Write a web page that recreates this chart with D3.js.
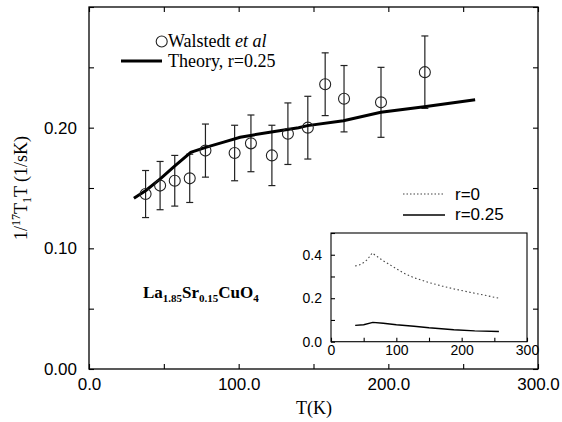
<!DOCTYPE html>
<html>
<head>
<meta charset="utf-8">
<script src="https://cdn.jsdelivr.net/npm/d3@7"></script>
<style>
  body { margin: 0; background: #fff; }
  svg { display: block; }
  .tick line { stroke: #000; stroke-width: 1.1; }
  .domain { stroke: none; }
</style>
</head>
<body>
<script>
// Walstedt et al data
const tempData = [37.8, 47.5, 57.3, 67.3, 77.8, 97.3, 108.2, 122.2, 132.9, 146.2, 157.8, 170.4, 195.1, 224.4]
const rateData = [0.145, 0.152, 0.156, 0.158, 0.181, 0.179, 0.187, 0.177, 0.195, 0.200, 0.236, 0.224, 0.221, 0.246]
const errData = [0.0195, 0.020, 0.021, 0.020, 0.022, 0.023, 0.0235, 0.025, 0.0255, 0.026, 0.026, 0.0275, 0.029, 0.030]

// theory, r=0.25
const theoryT = [30, 38, 48, 57, 68, 78, 90, 101, 110, 125, 140, 146, 170, 195, 224, 258]
const theoryV = [0.1416, 0.148, 0.158, 0.168, 0.1796, 0.1837, 0.188, 0.192, 0.194, 0.197, 0.200, 0.2017, 0.2058, 0.2127, 0.2174, 0.2231]

// inset curves
const r0T = [37, 45, 50, 55, 60, 63, 80, 100, 111, 127, 150, 170, 188, 210, 235, 257]
const r0V = [0.348, 0.355, 0.364, 0.376, 0.395, 0.408, 0.372, 0.336, 0.316, 0.294, 0.272, 0.256, 0.243, 0.229, 0.214, 0.200]
const r25T = [37, 50, 64, 80, 100, 127, 150, 188, 220, 257]
const r25V = [0.075, 0.078, 0.089, 0.085, 0.078, 0.071, 0.064, 0.055, 0.050, 0.047]

const xTicks = [0, 50, 100, 150, 200, 250, 300]
const yTicks = [0, 0.05, 0.10, 0.15, 0.20, 0.25, 0.30]
const insetXTicks = [0, 50, 100, 150, 200, 250, 300]
const insetYTicks = [0, 0.1, 0.2, 0.3, 0.4, 0.5]

const w = 562, h = 422
const sans = "'Liberation Sans', Arial, sans-serif"
const serif = "'Liberation Serif', 'Times New Roman', serif"

const svg = d3.select("body").append("svg")
  .attr("width", w)
  .attr("height", h)

const xScale = d3.scaleLinear().domain([0, 300]).range([89, 538])
const yScale = d3.scaleLinear().domain([0, 0.30]).range([369, 7])

// axes, ticks pointing inward
const fmtX = d => d % 100 === 0 ? d3.format(".1f")(d) : ""
const fmtY = d => Math.round(d * 100) % 10 === 0 && d < 0.25 ? d3.format(".2f")(d) : ""

const gx = svg.append("g")
  .attr("transform", "translate(0," + yScale(0) + ")")
  .call(d3.axisBottom(xScale).tickValues(xTicks).tickFormat(fmtX).tickSizeInner(-5).tickSizeOuter(0).tickPadding(9))
svg.append("g")
  .attr("transform", "translate(0," + yScale(0.30) + ")")
  .call(d3.axisTop(xScale).tickValues(xTicks).tickFormat("").tickSizeInner(-5).tickSizeOuter(0))
const gy = svg.append("g")
  .attr("transform", "translate(" + xScale(0) + ",0)")
  .call(d3.axisLeft(yScale).tickValues(yTicks).tickFormat(fmtY).tickSizeInner(-5).tickSizeOuter(0).tickPadding(12))
svg.append("g")
  .attr("transform", "translate(" + xScale(300) + ",0)")
  .call(d3.axisRight(yScale).tickValues(yTicks).tickFormat("").tickSizeInner(-5).tickSizeOuter(0))

svg.selectAll(".tick text")
  .style("font-family", sans)
  .style("font-size", "17px")
  .attr("fill", "#000")

svg.append("rect")
  .attr("x", xScale(0))
  .attr("y", yScale(0.30))
  .attr("width", xScale(300) - xScale(0))
  .attr("height", yScale(0) - yScale(0.30))
  .attr("fill", "none")
  .attr("stroke", "#000")
  .attr("stroke-width", 1.3)

// error bars
const pts = tempData.map((t, i) => ({ t: t, v: rateData[i], e: errData[i] }))
const bars = svg.append("g").attr("stroke", "#222").attr("stroke-width", 1.2)
bars.selectAll(".vbar").data(pts).enter().append("line")
  .attr("x1", d => xScale(d.t)).attr("x2", d => xScale(d.t))
  .attr("y1", d => yScale(d.v + d.e)).attr("y2", d => yScale(d.v - d.e))
bars.selectAll(".cap-top").data(pts).enter().append("line")
  .attr("x1", d => xScale(d.t) - 3.5).attr("x2", d => xScale(d.t) + 3.5)
  .attr("y1", d => yScale(d.v + d.e)).attr("y2", d => yScale(d.v + d.e))
bars.selectAll(".cap-bot").data(pts).enter().append("line")
  .attr("x1", d => xScale(d.t) - 3.5).attr("x2", d => xScale(d.t) + 3.5)
  .attr("y1", d => yScale(d.v - d.e)).attr("y2", d => yScale(d.v - d.e))

// theory line
const line = d3.line().x(d => xScale(d[0])).y(d => yScale(d[1]))
svg.append("path")
  .datum(theoryT.map((t, i) => [t, theoryV[i]]))
  .attr("d", line)
  .attr("fill", "none")
  .attr("stroke", "#000")
  .attr("stroke-width", 3)

// data circles
svg.selectAll("circle.pt").data(pts).enter().append("circle")
  .attr("class", "pt")
  .attr("cx", d => xScale(d.t))
  .attr("cy", d => yScale(d.v))
  .attr("r", 5.5)
  .attr("fill", "none")
  .attr("stroke", "#222")
  .attr("stroke-width", 1.1)

// legend
svg.append("circle")
  .attr("cx", 161.7).attr("cy", 41.5).attr("r", 5.5)
  .attr("fill", "none").attr("stroke", "#222").attr("stroke-width", 1.1)
const leg1 = svg.append("text")
  .attr("x", 168).attr("y", 47)
  .style("font-family", serif).style("font-size", "18px")
leg1.append("tspan").text("Walstedt ")
leg1.append("tspan").style("font-style", "italic").text("et al")
svg.append("line")
  .attr("x1", 121).attr("x2", 162).attr("y1", 61).attr("y2", 61)
  .attr("stroke", "#000").attr("stroke-width", 3)
svg.append("text")
  .attr("x", 168).attr("y", 67)
  .style("font-family", serif).style("font-size", "18px")
  .text("Theory, r=0.25")

// axis titles
svg.append("text")
  .attr("x", 314).attr("y", 414)
  .attr("text-anchor", "middle")
  .style("font-family", serif).style("font-size", "18px")
  .text("T(K)")

const yl = svg.append("text")
  .attr("transform", "translate(27,188) rotate(-90)")
  .attr("text-anchor", "middle")
  .style("font-family", serif).style("font-size", "18px")
yl.append("tspan").text("1/")
yl.append("tspan").attr("dy", -7).style("font-size", "12px").text("17")
yl.append("tspan").attr("dy", 7).text("T")
yl.append("tspan").attr("dy", 4).style("font-size", "12px").text("1")
yl.append("tspan").attr("dy", -4).text("T (1/sK)")

// compound label
const comp = svg.append("text")
  .attr("x", 143).attr("y", 298)
  .style("font-family", serif).style("font-size", "17px").style("font-weight", "bold")
const parts = [["La", false], ["1.85", true], ["Sr", false], ["0.15", true], ["CuO", false], ["4", true]]
let prevSub = false
parts.forEach(p => {
  const dy = p[1] === prevSub ? 0 : (p[1] ? 4 : -4)
  comp.append("tspan").attr("dy", dy).style("font-size", p[1] ? "11px" : "17px").text(p[0])
  prevSub = p[1]
})

// inset legend
svg.append("line")
  .attr("x1", 403).attr("x2", 443).attr("y1", 194).attr("y2", 194)
  .attr("stroke", "#444").attr("stroke-width", 1.1).attr("stroke-dasharray", "1.5,2")
svg.append("text").attr("x", 455).attr("y", 200)
  .style("font-family", sans).style("font-size", "17px").text("r=0")
svg.append("line")
  .attr("x1", 403).attr("x2", 445).attr("y1", 215).attr("y2", 215)
  .attr("stroke", "#000").attr("stroke-width", 1.4)
svg.append("text").attr("x", 455).attr("y", 220)
  .style("font-family", sans).style("font-size", "17px").text("r=0.25")

// inset
const ix = d3.scaleLinear().domain([0, 300]).range([331, 527])
const iy = d3.scaleLinear().domain([0, 0.5]).range([341.7, 233])

const inset = svg.append("g")
inset.append("rect")
  .attr("x", ix(0)).attr("y", iy(0.5))
  .attr("width", ix(300) - ix(0)).attr("height", iy(0) - iy(0.5))
  .attr("fill", "#fff").attr("stroke", "#000").attr("stroke-width", 1.1)

const igx = inset.append("g")
  .attr("transform", "translate(0," + iy(0) + ")")
  .call(d3.axisBottom(ix).tickValues(insetXTicks).tickFormat(d => d % 100 === 0 ? d : "").tickSizeInner(-4).tickSizeOuter(0).tickPadding(3))
const igy = inset.append("g")
  .attr("transform", "translate(" + ix(0) + ",0)")
  .call(d3.axisLeft(iy).tickValues(insetYTicks).tickFormat(d => Math.round(d * 10) % 2 === 0 && d < 0.5 ? d3.format(".1f")(d) : "").tickSizeInner(-4).tickSizeOuter(0).tickPadding(9))
inset.selectAll(".tick text")
  .style("font-family", sans)
  .style("font-size", "14px")
  .attr("fill", "#000")

const iline = d3.line().x(d => ix(d[0])).y(d => iy(d[1]))
inset.append("path")
  .datum(r0T.map((t, i) => [t, r0V[i]]))
  .attr("d", iline)
  .attr("fill", "none")
  .attr("stroke", "#444")
  .attr("stroke-width", 1.1)
  .attr("stroke-dasharray", "1.5,2.5")
inset.append("path")
  .datum(r25T.map((t, i) => [t, r25V[i]]))
  .attr("d", iline)
  .attr("fill", "none")
  .attr("stroke", "#000")
  .attr("stroke-width", 1.4)
</script>
</body>
</html>
